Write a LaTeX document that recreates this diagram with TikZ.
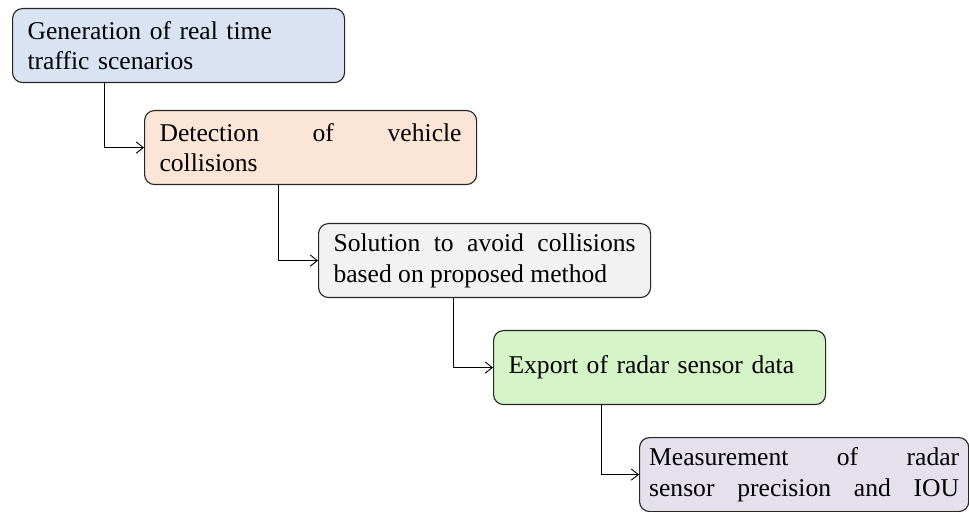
\documentclass[tikz,border=0pt]{standalone}
\usepackage{fontspec}
\setmainfont{Liberation Serif}
\usetikzlibrary{arrows.meta}
\definecolor{stepblue}{HTML}{DAE3F3}
\definecolor{steporange}{HTML}{FBE5D6}
\definecolor{stepgray}{HTML}{F2F2F2}
\definecolor{stepgreen}{HTML}{D5F5C8}
\definecolor{steppurple}{HTML}{E6E0EC}

\begin{document}
\begin{tikzpicture}[
  >={Straight Barb[length=5pt,width=8pt]},
  every node/.style={font=\fontsize{18.2}{21.8}\selectfont},
  stage/.style={rounded corners=0.25cm, draw=black!85, line width=0.8pt, anchor=north west,
    text width=7.55cm, inner xsep=0.375cm, minimum height=1.85cm, align=justify},
  link/.style={->, line width=0.65pt}
]
\useasboundingbox (0,0) rectangle (24.225,-12.8);
\node[stage, fill=stepblue, align=left] (gen) at (0.3,-0.2) {Generation of real time\\traffic scenarios};
\node[stage, fill=steporange] (detect) at (3.6,-2.75) {Detection of vehicle\linebreak collisions};
\node[stage, fill=stepgray] (avoid) at (7.95,-5.575) {Solution to avoid collisions\linebreak based on proposed method};
\node[stage, fill=stepgreen, align=left] (export) at (12.325,-8.25) {Export of radar sensor data};
\node[stage, fill=steppurple, text width=7.75cm, inner xsep=0.24cm] (measure) at (15.975,-10.925) {Measurement of radar\linebreak \makebox[\linewidth][s]{sensor precision and IOU}};
\draw[link] (gen.south west) ++(2.3,0) |- (detect.west);
\draw[link] (detect.south west) ++(3.35,0) |- (avoid.west);
\draw[link] (avoid.south west) ++(3.375,0) |- (export.west);
\draw[link] (export.south west) ++(2.7,0) |- (measure.west);
\end{tikzpicture}
\end{document}
